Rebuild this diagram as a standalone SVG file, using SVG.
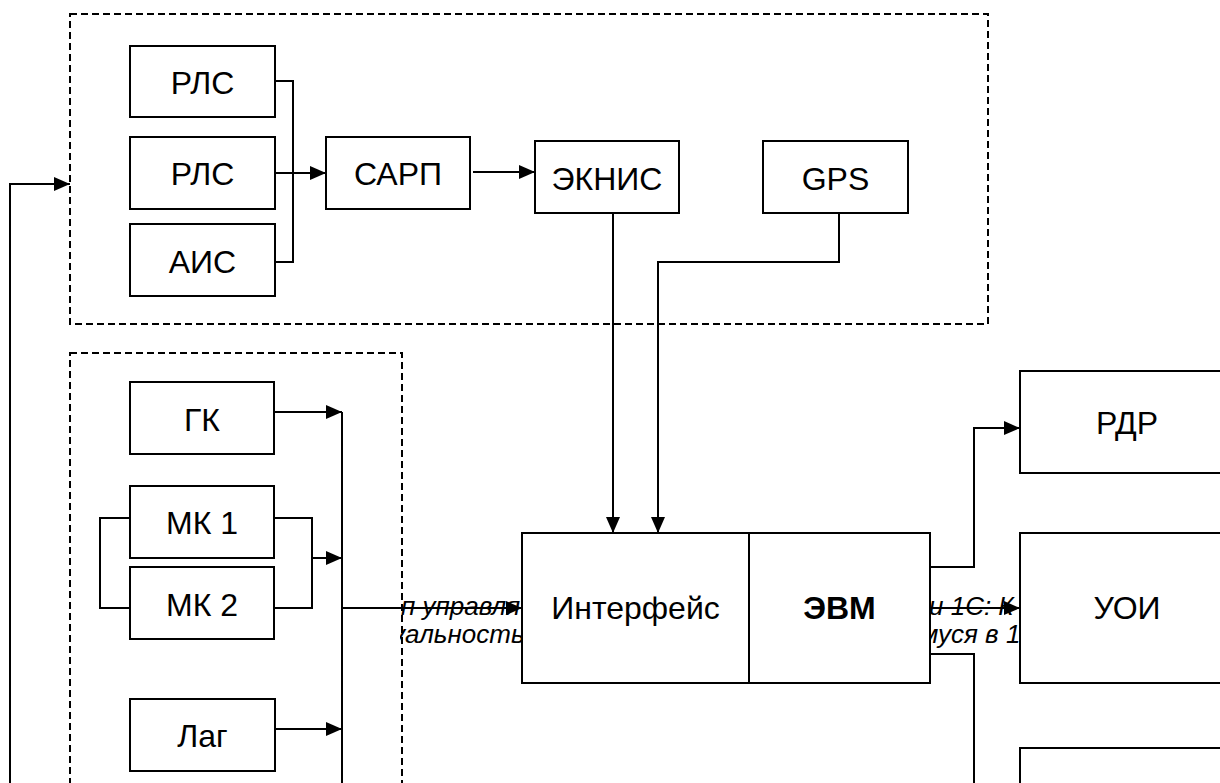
<svg xmlns="http://www.w3.org/2000/svg" width="1220" height="783" viewBox="0 0 1220 783">
<style>
.box{fill:#fff;stroke:#000;stroke-width:2}
.dash{fill:none;stroke:#000;stroke-width:2;stroke-dasharray:7,4}
.ln{fill:none;stroke:#000;stroke-width:2}
.t{font-family:"Liberation Sans",Arial,sans-serif;font-size:32px;text-anchor:middle;fill:#000}
.b{font-weight:bold}
.it{font-family:"Liberation Sans",Arial,sans-serif;font-size:26px;font-style:italic;fill:#000}
</style>
<defs>
<marker id="ah" markerUnits="userSpaceOnUse" markerWidth="16" markerHeight="14" refX="16" refY="7" orient="auto">
<path d="M0,0 L16,7 L0,14 z" fill="#000"/>
</marker>
<clipPath id="cl"><rect x="400" y="590" width="122" height="70"/></clipPath>
<clipPath id="cr"><rect x="931" y="590" width="88" height="70"/></clipPath>
</defs>
<rect width="1220" height="783" fill="#fff"/>
<g id="group-top"><rect class="dash" x="70" y="14" width="918" height="310"/></g>
<g id="group-bottom"><rect class="dash" x="70" y="353" width="332" height="500"/></g>
<g id="labels">
<g clip-path="url(#cl)">
<text class="it" x="401" y="615">п управля</text>
<text class="it" x="392" y="643">уальность</text>
</g>
<g clip-path="url(#cr)">
<text class="it" x="929" y="615">и 1С: К</text>
<text class="it" x="906" y="643">имуся в 1</text>
</g>
</g>
<g id="connectors">
<path class="ln" d="M275,81 H293 V262 H275"/>
<path class="ln" d="M275,173 H326" marker-end="url(#ah)"/>
<path class="ln" d="M473,172 H535" marker-end="url(#ah)"/>
<path class="ln" d="M613,213 V533" marker-end="url(#ah)"/>
<path class="ln" d="M839,213 V262 H658 V533" marker-end="url(#ah)"/>
<path class="ln" d="M10,783 V184 H70" marker-end="url(#ah)"/>
<path class="ln" d="M274,412 H342" marker-end="url(#ah)"/>
<path class="ln" d="M342,412 V783"/>
<path class="ln" d="M130,518 H100 V608 H130"/>
<path class="ln" d="M274,518 H312 V608 H274"/>
<path class="ln" d="M312,558 H342" marker-end="url(#ah)"/>
<path class="ln" d="M275,729 H342" marker-end="url(#ah)"/>
<path class="ln" d="M342,608 H522" marker-end="url(#ah)"/>
<path class="ln" d="M930,567 H974 V428 H1020" marker-end="url(#ah)"/>
<path class="ln" d="M930,608 H1020" marker-end="url(#ah)"/>
<path class="ln" d="M930,654 H974 V783"/>
</g>
<g id="rls1"><rect class="box" x="130" y="46" width="145" height="71"/><text class="t" x="202.5" y="94">РЛС</text></g>
<g id="rls2"><rect class="box" x="130" y="137" width="145" height="72"/><text class="t" x="202.5" y="185">РЛС</text></g>
<g id="ais"><rect class="box" x="130" y="224" width="145" height="72"/><text class="t" x="202.5" y="273">АИС</text></g>
<g id="sarp"><rect class="box" x="326" y="137" width="144" height="72"/><text class="t" x="398" y="185">САРП</text></g>
<g id="ecdis"><rect class="box" x="535" y="141" width="144" height="72"/><text class="t" x="607" y="190">ЭКНИС</text></g>
<g id="gps"><rect class="box" x="763" y="141" width="145" height="72"/><text class="t" x="835.5" y="190">GPS</text></g>
<g id="gk"><rect class="box" x="130" y="382" width="144" height="72"/><text class="t" x="202" y="431">ГК</text></g>
<g id="mk1"><rect class="box" x="130" y="486" width="144" height="72"/><text class="t" x="202" y="534">МК 1</text></g>
<g id="mk2"><rect class="box" x="130" y="567" width="144" height="72"/><text class="t" x="202" y="616">МК 2</text></g>
<g id="lag"><rect class="box" x="130" y="699" width="145" height="72"/><text class="t" x="202.5" y="747">Лаг</text></g>
<g id="interface"><rect class="box" x="522" y="533" width="227" height="150"/><text class="t" x="635.5" y="619">Интерфейс</text></g>
<g id="evm"><rect class="box" x="749" y="533" width="181" height="150"/><text class="t b" x="839.5" y="619">ЭВМ</text></g>
<g id="rdr"><rect class="box" x="1020" y="371" width="220" height="102"/><text class="t" x="1127" y="434">РДР</text></g>
<g id="uoi"><rect class="box" x="1020" y="533" width="220" height="150"/><text class="t" x="1127" y="619">УОИ</text></g>
<g id="out3"><rect class="box" x="1020" y="748" width="220" height="100"/></g>
</svg>
